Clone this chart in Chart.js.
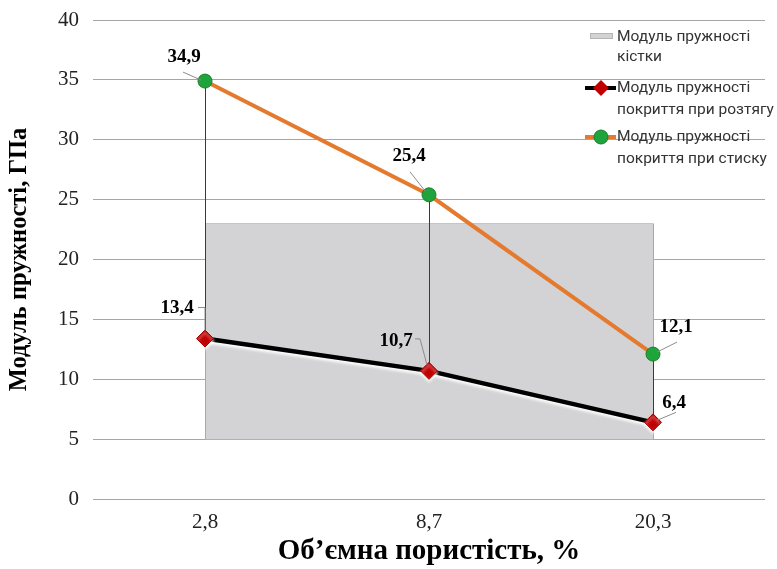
<!DOCTYPE html>
<html>
<head>
<meta charset="utf-8">
<script src="https://cdn.jsdelivr.net/npm/chart.js@4.4.1/dist/chart.umd.min.js"></script>
<style>
  html, body { margin: 0; padding: 0; background: #fff; }
  #wrap { width: 777px; height: 569px; position: relative; }
</style>
</head>
<body>
<div id="wrap"><canvas id="c" width="777" height="569"></canvas></div>
<script>
// Volume porosity categories (x axis) and elastic moduli, GPa
const categories = ['2,8', '8,7', '20,3'];
const boneTop = [23, 23, 23];
const boneBase = [5, 5, 5];
const tensionModulus = [13.4, 10.7, 6.4];
const compressionModulus = [34.9, 25.4, 12.1];
const yTicks = { min: 0, max: 40, step: 5 };

const legendItems = [
  { lines: ['Модуль пружності', 'кістки'], kind: 'box' },
  { lines: ['Модуль пружності', 'покриття при розтягу'], kind: 'tension' },
  { lines: ['Модуль пружності', 'покриття при стиску'], kind: 'compression' }
];

const COL = {
  bone: '#d3d2d4',
  boneEdge: '#a9a9a9',
  tension: '#000000',
  diamond: '#c00000',
  compression: '#e47a2e',
  circle: '#1fa33b',
  circleEdge: '#15802c',
  grid: '#a6a6a6',
  leader: '#8c8c8c',
  drop: '#3a3a3a'
};

const fmt = v => v.toFixed(1).replace('.', ',');

// label placement relative to each point: [dx, dy] of label centre, and leader polyline
const labelLayout = {
  2: {
    offsets: [[-28, -30], [-33, -30], [21, -19]],
    leaders: [[[-7, -31], [0, -31], [0, -8]], [[-14, -32], [-9, -32], [-2, -6]], [[23, -10], [4, -2]]]
  },
  3: {
    offsets: [[-21, -24], [-20, -39], [23, -27]],
    leaders: [[[-22, -9], [-4, -1]], [[-19, -23], [-4, -4]], [[24, -12], [4, -2]]]
  }
};

const boneAndDropLines = {
  id: 'boneAndDropLines',
  afterDatasetDraw(chart, args) {
    if (args.index !== 0) return;
    const ctx = chart.ctx;
    const x = chart.scales.x, y = chart.scales.y;
    ctx.save();
    // side edges of the bone band
    ctx.strokeStyle = COL.boneEdge;
    ctx.lineWidth = 1;
    [0, categories.length - 1].forEach(i => {
      const px = Math.round(x.getPixelForValue(i)) + 0.5;
      ctx.beginPath();
      ctx.moveTo(px, y.getPixelForValue(boneBase[i]));
      ctx.lineTo(px, y.getPixelForValue(boneTop[i]));
      ctx.stroke();
    });
    // high-low drop lines between the two coating series
    ctx.strokeStyle = COL.drop;
    categories.forEach((c, i) => {
      const px = Math.round(x.getPixelForValue(i)) + 0.5;
      ctx.beginPath();
      ctx.moveTo(px, y.getPixelForValue(compressionModulus[i]));
      ctx.lineTo(px, y.getPixelForValue(tensionModulus[i]));
      ctx.stroke();
    });
    ctx.restore();
  }
};

const lineGlow = {
  id: 'lineGlow',
  beforeDatasetDraw(chart, args) {
    if (args.index === 2) {
      const ctx = chart.ctx;
      ctx.save();
      ctx.shadowColor = 'rgba(255,255,255,0.95)';
      ctx.shadowBlur = 3;
      ctx.shadowOffsetY = 2.5;
    }
  },
  afterDatasetDraw(chart, args) {
    if (args.index === 2) chart.ctx.restore();
  }
};

const valueLabels = {
  id: 'valueLabels',
  afterDatasetsDraw(chart) {
    const ctx = chart.ctx;
    ctx.save();
    Object.keys(labelLayout).forEach(k => {
      const di = +k;
      const meta = chart.getDatasetMeta(di);
      const data = chart.data.datasets[di].data;
      const lay = labelLayout[k];
      meta.data.forEach((pt, i) => {
        const px = pt.x, py = pt.y;
        ctx.strokeStyle = COL.leader;
        ctx.lineWidth = 1;
        ctx.beginPath();
        lay.leaders[i].forEach((p, j) => {
          if (j === 0) ctx.moveTo(px + p[0], py + p[1]);
          else ctx.lineTo(px + p[0], py + p[1]);
        });
        ctx.stroke();
        ctx.fillStyle = '#000';
        ctx.font = 'bold 19px "Liberation Serif"';
        ctx.textAlign = 'center';
        ctx.textBaseline = 'middle';
        ctx.fillText(fmt(data[i]), px + lay.offsets[i][0], py + lay.offsets[i][1]);
      });
    });
    ctx.restore();
  }
};

const sideLegend = {
  id: 'sideLegend',
  afterDraw(chart) {
    const ctx = chart.ctx;
    const rows = [[37, 57], [88, 110], [137, 159]];
    const tx = 617, mx = 601;
    ctx.save();
    ctx.font = '15.5px Roboto';
    ctx.textAlign = 'left';
    ctx.textBaseline = 'middle';
    legendItems.forEach((item, i) => {
      const my = rows[i][0];
      if (item.kind === 'box') {
        ctx.fillStyle = COL.bone;
        ctx.fillRect(590, my - 4, 23, 6);
        ctx.strokeStyle = '#b5b5b5';
        ctx.lineWidth = 1;
        ctx.strokeRect(590.5, my - 3.5, 22, 5);
      } else if (item.kind === 'tension') {
        ctx.strokeStyle = COL.tension;
        ctx.lineWidth = 4;
        ctx.beginPath(); ctx.moveTo(585, my); ctx.lineTo(616, my); ctx.stroke();
        ctx.fillStyle = COL.diamond;
        ctx.beginPath();
        ctx.moveTo(mx, my - 8); ctx.lineTo(mx + 8, my); ctx.lineTo(mx, my + 8); ctx.lineTo(mx - 8, my);
        ctx.closePath(); ctx.fill();
      } else {
        ctx.strokeStyle = COL.compression;
        ctx.lineWidth = 4;
        ctx.beginPath(); ctx.moveTo(585, my); ctx.lineTo(616, my); ctx.stroke();
        ctx.fillStyle = COL.circle;
        ctx.beginPath(); ctx.arc(mx, my, 7, 0, Math.PI * 2); ctx.fill();
        ctx.strokeStyle = COL.circleEdge; ctx.lineWidth = 1; ctx.stroke();
      }
      ctx.fillStyle = '#333333';
      item.lines.forEach((t, j) => ctx.fillText(t, tx, rows[i][j]));
    });
    ctx.restore();
  }
};

new Chart(document.getElementById('c'), {
  type: 'line',
  data: {
    labels: categories,
    datasets: [
      {
        label: 'Модуль пружності кістки',
        data: boneTop,
        fill: 1,
        backgroundColor: COL.bone,
        borderColor: '#c4c4c4',
        borderWidth: 1,
        pointRadius: 0,
        tension: 0,
        order: 10
      },
      {
        label: 'base',
        data: boneBase,
        fill: false,
        borderWidth: 0,
        borderColor: 'rgba(0,0,0,0)',
        pointRadius: 0,
        order: 11
      },
      {
        label: 'Модуль пружності покриття при розтягу',
        data: tensionModulus,
        borderColor: COL.tension,
        borderWidth: 4.5,
        pointStyle: 'rectRot',
        pointRadius: 8.5,
        pointBackgroundColor: COL.diamond,
        pointBorderColor: '#9e0000',
        pointBorderWidth: 1,
        tension: 0,
        fill: false,
        order: 2
      },
      {
        label: 'Модуль пружності покриття при стиску',
        data: compressionModulus,
        borderColor: COL.compression,
        borderWidth: 4,
        pointStyle: 'circle',
        pointRadius: 7,
        pointBackgroundColor: COL.circle,
        pointBorderColor: COL.circleEdge,
        pointBorderWidth: 1,
        tension: 0,
        fill: false,
        order: 1
      }
    ]
  },
  options: {
    responsive: false,
    animation: false,
    events: [],
    layout: { padding: { left: 0, right: 12, top: 20, bottom: 0 } },
    plugins: {
      legend: { display: false },
      tooltip: { enabled: false }
    },
    scales: {
      x: {
        type: 'category',
        offset: true,
        grid: { display: false, drawTicks: false },
        border: { display: false },
        ticks: {
          padding: 11,
          color: '#222',
          font: { family: '"Liberation Serif"', size: 21 }
        },
        title: {
          display: true,
          text: 'Об’ємна пористість, %',
          color: '#000',
          font: { family: '"Liberation Serif"', size: 29, weight: 'bold' },
          padding: { top: 0, bottom: 0 }
        },
        afterFit(s) { s.height = 70; }
      },
      y: {
        min: yTicks.min,
        max: yTicks.max,
        ticks: {
          stepSize: yTicks.step,
          padding: 14,
          color: '#222',
          font: { family: '"Liberation Serif"', size: 21 }
        },
        grid: { color: COL.grid, lineWidth: 1, drawTicks: false },
        border: { display: false },
        title: {
          display: true,
          text: 'Модуль пружності, ГПа',
          color: '#000',
          font: { family: '"Liberation Serif"', size: 24.5, weight: 'bold' },
          padding: { top: 5, bottom: 0 }
        },
        afterFit(s) { s.width = 93; s.paddingTop = 0; s.paddingBottom = 0; }
      }
    }
  },
  plugins: [boneAndDropLines, lineGlow, valueLabels, sideLegend]
});
</script>
</body>
</html>
